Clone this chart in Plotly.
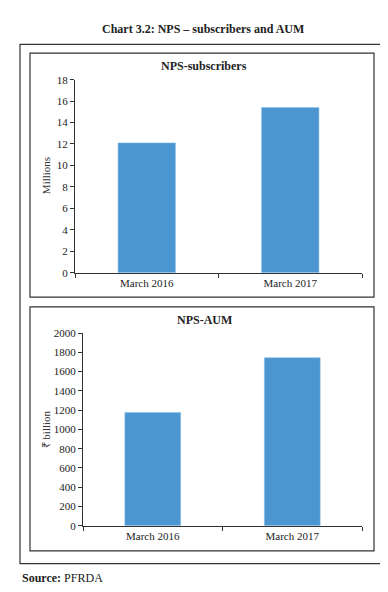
import plotly.graph_objects as go

# Data
categories = ["March 2016", "March 2017"]
subscribers_millions = [12.1, 15.4]
aum_billion = [1175, 1745]

W, H = 388, 592
FONT = "Liberation Serif"
BAR_COLOR = "#4B96D1"
LINE = "#333333"

def px(x):
    return x / W

def py(y):
    return 1 - y / H

fig = go.Figure()
fig.add_trace(go.Bar(x=categories, y=subscribers_millions, xaxis="x", yaxis="y",
                     marker=dict(color=BAR_COLOR, line=dict(color="#8CC0E8", width=0.6)),
                     width=0.4, hoverinfo="x+y"))
fig.add_trace(go.Bar(x=categories, y=aum_billion, xaxis="x2", yaxis="y2",
                     marker=dict(color=BAR_COLOR, line=dict(color="#8CC0E8", width=0.6)),
                     width=0.4, hoverinfo="x+y"))

axis_common = dict(showline=True, linecolor=LINE, linewidth=1, ticks="outside",
                   ticklen=4, tickcolor=LINE, showgrid=False, zeroline=False,
                   tickfont=dict(family=FONT, size=11, color="#222"))

fig.update_layout(
    width=W, height=H,
    margin=dict(l=0, r=0, t=0, b=0),
    paper_bgcolor="white", plot_bgcolor="white",
    showlegend=False,
    font=dict(family=FONT, color="#222"),
    xaxis=dict(domain=[px(67), px(354)], anchor="y", tickson="boundaries", **axis_common),
    yaxis=dict(domain=[py(264), py(67)], anchor="x", range=[0, 18], dtick=2, **axis_common),
    xaxis2=dict(domain=[px(75), px(354)], anchor="y2", tickson="boundaries", **axis_common),
    yaxis2=dict(domain=[py(522.3), py(325.7)], anchor="x2", range=[0, 2000], dtick=200, **axis_common),
)

shapes = []
for (x0, y0, x1, y1) in [(12, 31, 377, 561), (22, 40, 366, 289), (22, 299, 366, 548)]:
    shapes.append(dict(type="rect", xref="paper", yref="paper",
                       x0=px(x0), x1=px(x1), y0=py(y1), y1=py(y0),
                       line=dict(color=LINE, width=1.2), fillcolor="rgba(0,0,0,0)"))
fig.update_layout(shapes=shapes)

annotations = [
    dict(text="<b>Chart 3.2: NPS – subscribers and AUM</b>", x=px(195), y=py(15),
         font=dict(size=12, family=FONT, color="#222")),
    dict(text="<b>NPS-subscribers</b>", x=px(196), y=py(53),
         font=dict(size=12, family=FONT, color="#222")),
    dict(text="<b>NPS-AUM</b>", x=px(196), y=py(312),
         font=dict(size=12, family=FONT, color="#222")),
    dict(text="Millions", x=px(38), y=py(165.5), textangle=-90,
         font=dict(size=11, family=FONT, color="#333")),
    dict(text="₹ billion", x=px(38), y=py(424), textangle=-90,
         font=dict(size=11, family=FONT, color="#333")),
    dict(text="<b>Source:</b> PFRDA", x=px(12), y=py(576), xanchor="left",
         font=dict(size=12, family=FONT, color="#222")),
]
for a in annotations:
    a.setdefault("xref", "paper")
    a.setdefault("yref", "paper")
    a.setdefault("showarrow", False)
    a.setdefault("xanchor", "center")
    a.setdefault("yanchor", "middle")
fig.update_layout(annotations=annotations)

fig.write_html("out.html")
